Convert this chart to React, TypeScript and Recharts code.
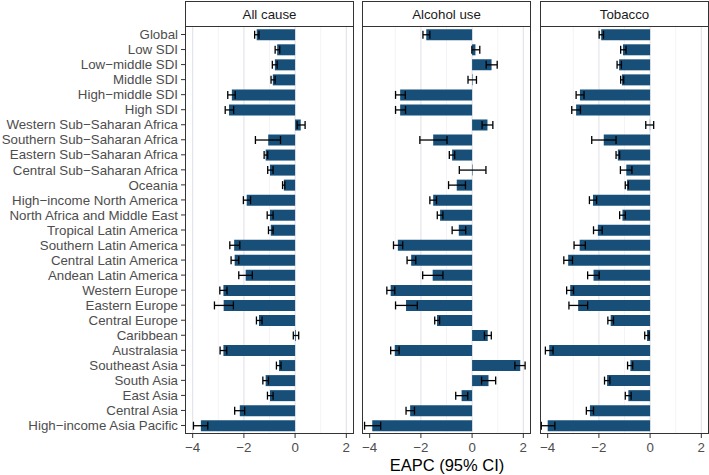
import { BarChart, Bar, XAxis, YAxis, ErrorBar, CartesianGrid } from 'recharts'

const regions = [
  'Global', 'Low SDI', 'Low−middle SDI', 'Middle SDI', 'High−middle SDI', 'High SDI',
  'Western Sub−Saharan Africa', 'Southern Sub−Saharan Africa', 'Eastern Sub−Saharan Africa',
  'Central Sub−Saharan Africa', 'Oceania', 'High−income North America',
  'North Africa and Middle East', 'Tropical Latin America', 'Southern Latin America',
  'Central Latin America', 'Andean Latin America', 'Western Europe', 'Eastern Europe',
  'Central Europe', 'Caribbean', 'Australasia', 'Southeast Asia', 'South Asia',
  'East Asia', 'Central Asia', 'High−income Asia Pacific',
]

const allCause = [-1.5, -0.7, -0.79, -0.87, -2.47, -2.58, 0.22, -1.05, -1.15, -0.98, -0.44, -1.89, -0.98, -0.95,
  -2.38, -2.36, -1.93, -2.8, -2.79, -1.41, 0.03, -2.8, -0.63, -1.15, -0.98, -2.16, -3.68]
const allCauseLo = [-1.58, -0.78, -0.89, -0.94, -2.63, -2.73, 0.08, -1.55, -1.21, -1.07, -0.49, -2.02, -1.09, -1.04,
  -2.55, -2.5, -2.2, -2.94, -3.15, -1.51, -0.07, -2.93, -0.73, -1.26, -1.08, -2.36, -3.97]
const allCauseHi = [-1.41, -0.6, -0.7, -0.78, -2.34, -2.4, 0.39, -0.57, -1.07, -0.86, -0.4, -1.74, -0.86, -0.86,
  -2.16, -2.2, -1.67, -2.66, -2.41, -1.29, 0.14, -2.67, -0.55, -1.04, -0.86, -1.97, -3.41]

const alcohol = [-1.79, 0.13, 0.76, 0.02, -2.81, -2.81, 0.6, -1.52, -0.78, 0.02, -0.6, -1.52, -1.25, -0.52,
  -2.9, -2.38, -1.54, -3.18, -2.58, -1.37, 0.61, -3.02, 1.88, 0.64, -0.41, -2.42, -3.9]
const alcoholLo = [-1.92, -0.01, 0.55, -0.16, -2.99, -2.99, 0.39, -2.04, -0.89, -0.5, -0.92, -1.65, -1.36, -0.78,
  -3.07, -2.54, -1.93, -3.33, -2.99, -1.46, 0.48, -3.18, 1.67, 0.37, -0.64, -2.58, -4.2]
const alcoholHi = [-1.65, 0.3, 0.98, 0.17, -2.61, -2.6, 0.81, -0.98, -0.68, 0.54, -0.26, -1.39, -1.14, -0.25,
  -2.71, -2.2, -1.14, -3.02, -2.14, -1.27, 0.75, -2.85, 2.07, 0.92, -0.17, -2.25, -3.57]

const tobacco = [-1.91, -1.06, -1.21, -1.1, -2.74, -2.89, -0.01, -1.81, -1.26, -0.93, -0.9, -2.23, -1.08, -2.04,
  -2.75, -3.2, -2.21, -3.12, -2.81, -1.54, -0.12, -3.94, -0.77, -1.68, -0.85, -2.35, -4.0]
const tobaccoLo = [-1.99, -1.15, -1.29, -1.15, -2.89, -3.06, -0.17, -2.28, -1.33, -1.16, -0.97, -2.37, -1.19, -2.21,
  -2.97, -3.37, -2.44, -3.26, -3.17, -1.65, -0.21, -4.09, -0.88, -1.78, -0.97, -2.49, -4.25]
const tobaccoHi = [-1.82, -0.94, -1.12, -1.03, -2.58, -2.72, 0.14, -1.33, -1.19, -0.71, -0.85, -2.09, -0.97, -1.87,
  -2.53, -3.03, -1.99, -2.99, -2.44, -1.43, -0.04, -3.79, -0.68, -1.57, -0.74, -2.21, -3.72]

const panels = ['All cause', 'Alcohol use', 'Tobacco']
const xTicks = [-4, -2, 0, 2]
const minorTicks = [-3, -1, 1]

const font = '"Liberation Sans", Arial, Helvetica, sans-serif'
const barColor = '#174f78'
const panelLefts = [185, 362, 540]
const panelW = 169
const plotTop = 26
const plotH = 408
const yLabelW = 185

function build(vals: number[], lo: number[], hi: number[]) {
  return regions.map((name, i) => ({
    name,
    value: vals[i],
    err: [vals[i] - lo[i], hi[i] - vals[i]],
  }))
}

const datasets = [
  build(allCause, allCauseLo, allCauseHi),
  build(alcohol, alcoholLo, alcoholHi),
  build(tobacco, tobaccoLo, tobaccoHi),
]

const fmt = (v: number) => String(v).replace('-', '−')

// single-line label, right aligned against the tick
function RegionTick(props: any) {
  const { x, y, payload } = props
  return (
    <text x={x} y={y} dy="0.35em" textAnchor="end" fill="#4d4d4d" fontSize={13.3} fontFamily={font}>
      {payload.value}
    </text>
  )
}

function Panel({ idx }: { idx: number }) {
  const first = idx === 0
  const left = first ? 0 : panelLefts[idx]
  const width = first ? yLabelW + panelW : panelW
  return (
    <div style={{ position: 'absolute', left, top: 0 }}>
      <BarChart
        width={width}
        height={475}
        data={datasets[idx]}
        layout="vertical"
        barCategoryGap="15%"
        margin={{ top: plotTop, right: 0, bottom: 0, left: 0 }}
      >
        <CartesianGrid horizontal={false} verticalValues={minorTicks} stroke="#ececf3" strokeWidth={0.6} />
        <CartesianGrid horizontal={false} verticalValues={xTicks} stroke="#e2e2ea" strokeWidth={1.1} />
        <XAxis
          type="number"
          domain={[-4.3, 2.3]}
          ticks={xTicks}
          allowDataOverflow
          axisLine={false}
          tickSize={4}
          tickMargin={5}
          tickLine={{ stroke: '#333' }}
          tickFormatter={fmt}
          tick={{ fill: '#4d4d4d', fontSize: 13.3, fontFamily: font }}
          height={475 - plotTop - plotH}
        />
        <YAxis
          type="category"
          dataKey="name"
          hide={!first}
          width={yLabelW}
          interval={0}
          axisLine={false}
          tickSize={4}
          tickMargin={3}
          padding={{ top: 1, bottom: 1 }}
          tickLine={{ stroke: '#333' }}
          tick={<RegionTick />}
        />
        <Bar dataKey="value" fill={barColor} isAnimationActive={false}>
          <ErrorBar dataKey="err" direction="x" width={4} stroke="#000" strokeWidth={1.3} />
        </Bar>
      </BarChart>
    </div>
  )
}

export default function App() {
  return (
    <div
      style={{
        position: 'absolute', left: 0, top: 0, width: 709, height: 475,
        background: '#fff', fontFamily: font, overflow: 'hidden',
      }}
    >
      {panels.map((p, i) => (
        <Panel key={p} idx={i} />
      ))}
      {panels.map((p, i) => (
        <div key={'s' + p}>
          <div
            style={{
              position: 'absolute', left: panelLefts[i], top: 1, width: panelW, height: plotTop,
              border: '1px solid #333', boxSizing: 'border-box', background: '#fff',
              display: 'flex', alignItems: 'center', justifyContent: 'center',
              fontSize: 13.3, color: '#1a1a1a',
            }}
          >
            {p}
          </div>
          <div
            style={{
              position: 'absolute', left: panelLefts[i], top: plotTop, width: panelW, height: plotH,
              border: '1px solid #333', boxSizing: 'border-box', pointerEvents: 'none',
            }}
          />
        </div>
      ))}
      <div
        style={{
          position: 'absolute', left: panelLefts[0], width: panelLefts[2] + panelW - panelLefts[0],
          top: 456, lineHeight: '19px', textAlign: 'center', fontSize: 16.5, color: '#000',
        }}
      >
        EAPC (95% CI)
      </div>
    </div>
  )
}
